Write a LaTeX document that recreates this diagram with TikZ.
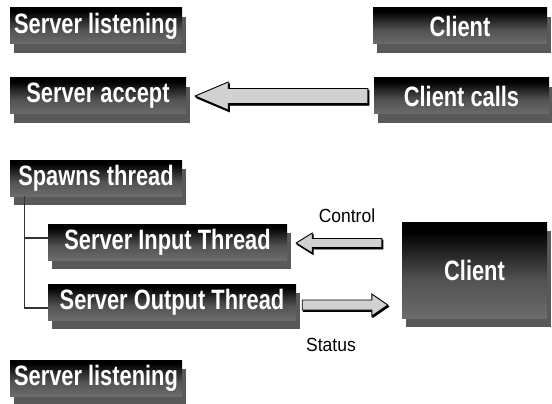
\documentclass[tikz,border=0pt]{standalone}
\usepackage{fontspec}
\setmainfont{Liberation Sans}
\usetikzlibrary{shadows,calc}
\pgfdeclareverticalshading{boxshade}{100bp}{color(0bp)=(black!45); color(45bp)=(black!68); color(70bp)=(black); color(100bp)=(black)}
\newcommand\narrowtxt[2]{\scalebox{#1}[1]{#2}}
\tikzset{
  darkbox/.style={rectangle, inner sep=0pt, shading=boxshade, text=white,
    font=\fontsize{28}{32}\selectfont\bfseries,
    drop shadow={shadow xshift=4pt, shadow yshift=-9pt, fill=black!65, opacity=1}},
  lbl/.style={inner sep=0pt, font=\fontsize{19}{22}\selectfont},
  blockarrow/.style={fill=black!18, draw=black, line width=0.9pt, line join=miter},
  arrowshadow/.style={fill=black, draw=black, line width=0.9pt},
  treeline/.style={draw=black!80, line width=1.1pt}
}
\begin{document}
\begin{tikzpicture}[x=1pt,y=-1pt]
\useasboundingbox (0,0) rectangle (552,404);
% boxes
\node[darkbox, minimum width=172pt, minimum height=36pt] (sl1) at (96,26) {\narrowtxt{0.78}{Server listening}};
\node[darkbox, minimum width=174pt, minimum height=36pt] (c1) at (460,26) {\narrowtxt{0.78}{Client}};
\node[darkbox, minimum width=176pt, minimum height=36pt] (sa) at (98,96) {\narrowtxt{0.78}{Server accept}};
\node[darkbox, minimum width=175pt, minimum height=36pt] (cc) at (461.5,96) {\narrowtxt{0.78}{Client calls}};
\node[darkbox, minimum width=172pt, minimum height=36pt] (sp) at (96,178) {\narrowtxt{0.78}{Spawns thread}};
\node[darkbox, minimum width=239pt, minimum height=36pt] (sit) at (167.5,242) {\narrowtxt{0.78}{Server Input Thread}};
\node[darkbox, minimum width=248pt, minimum height=36pt] (sot) at (172,302) {\narrowtxt{0.78}{Server Output Thread}};
\node[darkbox, minimum width=145pt, minimum height=96pt] (cb) at (474.5,270) {\narrowtxt{0.78}{Client}};
\node[darkbox, minimum width=172pt, minimum height=36pt] (sl2) at (96,378) {\narrowtxt{0.78}{Server listening}};
% labels
\node[lbl] (ctl) at (347,216) {\narrowtxt{0.92}{Control}};
\node[lbl] (sts) at (331,345) {\narrowtxt{0.92}{Status}};
% tree
\coordinate (trunk) at ($(sp.south west)+(15,0)$);
\draw[treeline] (trunk) |- ($(sot.west)+(0,6)$);
\draw[treeline] (trunk |- {$(sit.west)+(0,-4)$}) -- ($(sit.west)+(0,-4)$);
% main arrow: Client calls -> Server accept
\coordinate (a1tip) at ($(sa.east)+(9,0)$);
\coordinate (a1tail) at ($(cc.west)+(-6,0)$);
\foreach \dx/\dy/\st in {1.2/1.8/arrowshadow, 0/0/blockarrow}{
  \path[\st] ($(a1tip)+(\dx,\dy)$) -- ++(33,-14) -- ++(0,6.5) -- ($(a1tail)+(\dx,\dy)+(0,-7.5)$)
     -- ++(0,15) -- ($(a1tip)+(\dx,\dy)+(33,7.5)$) -- ++(0,6.5) -- cycle;
}
% control arrow: Client -> Server Input Thread
\coordinate (a2tip) at ($(sit.east)+(9,1)$);
\coordinate (a2tail) at ($(cb.west |- a2tip)+(-20,0)$);
\foreach \dx/\dy/\st in {1/1.5/arrowshadow, 0/0/blockarrow}{
  \path[\st] ($(a2tip)+(\dx,\dy)$) -- ++(16,-10) -- ++(0,5.5) -- ($(a2tail)+(\dx,\dy)+(0,-4.5)$)
     -- ++(0,9) -- ($(a2tip)+(\dx,\dy)+(16,4.5)$) -- ++(0,5.5) -- cycle;
}
% status arrow: Server Output Thread -> Client
\coordinate (a3tail) at ($(sot.east)+(6,3)$);
\coordinate (a3tip) at ($(cb.west |- a3tail)+(-14,0)$);
\foreach \dx/\dy/\st in {1/1.5/arrowshadow, 0/0/blockarrow}{
  \path[\st] ($(a3tip)+(\dx,\dy)$) -- ++(-16,-11) -- ++(0,6) -- ($(a3tail)+(\dx,\dy)+(0,-5)$)
     -- ++(0,10) -- ($(a3tip)+(\dx,\dy)+(-16,5)$) -- ++(0,6) -- cycle;
}
\end{tikzpicture}
\end{document}
